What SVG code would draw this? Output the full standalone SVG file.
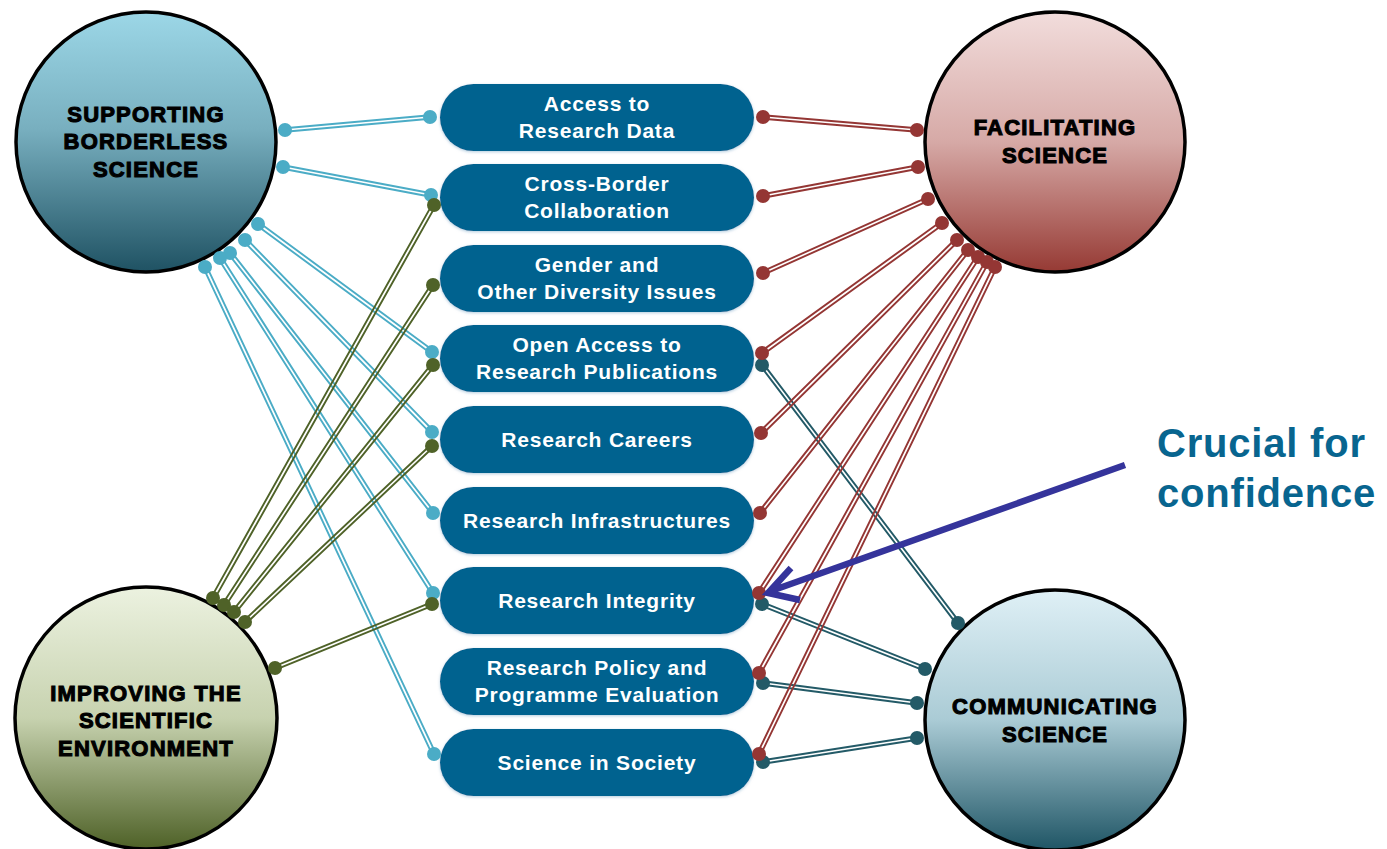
<svg xmlns="http://www.w3.org/2000/svg" width="1387" height="849" viewBox="0 0 1387 849">
<defs>
<linearGradient id="gSup" x1="0" y1="0" x2="0" y2="1"><stop offset="0" stop-color="#9CD7E7"/><stop offset="0.45" stop-color="#78AFBF"/><stop offset="1" stop-color="#1F5263"/></linearGradient>
<linearGradient id="gFac" x1="0" y1="0" x2="0" y2="1"><stop offset="0" stop-color="#F2DDDC"/><stop offset="0.5" stop-color="#D6A9A6"/><stop offset="1" stop-color="#963A34"/></linearGradient>
<linearGradient id="gImp" x1="0" y1="0" x2="0" y2="1"><stop offset="0" stop-color="#ECF2E0"/><stop offset="0.5" stop-color="#C7D2AF"/><stop offset="1" stop-color="#4E6127"/></linearGradient>
<linearGradient id="gCom" x1="0" y1="0" x2="0" y2="1"><stop offset="0" stop-color="#DFF0F6"/><stop offset="0.5" stop-color="#AACBD5"/><stop offset="1" stop-color="#1F5565"/></linearGradient>
<filter id="glow" x="-10%" y="-20%" width="120%" height="140%"><feDropShadow dx="0" dy="1" stdDeviation="1.6" flood-color="#7FA9C9" flood-opacity="0.6"/></filter>
</defs>
<style>
.hub{stroke:#000;stroke-width:3.5}
.hubt{font-family:"Liberation Sans",Arial,sans-serif;font-weight:bold;font-size:22px;letter-spacing:1.2px;fill:#000;stroke:#000;stroke-width:1.1;text-anchor:middle}
.box{fill:#03628F;filter:url(#glow)}
.boxt{font-family:"Liberation Sans",Arial,sans-serif;font-weight:bold;font-size:21px;letter-spacing:0.8px;fill:#fff;text-anchor:middle}
.c{fill:none;stroke-width:1.9}
.blue .c{stroke:#4BACC6}.blue circle{fill:#4BACC6}
.red .c{stroke:#943634}.red circle{fill:#943634}
.green .c{stroke:#4F6228}.green circle{fill:#4F6228}
.teal .c{stroke:#235A67}.teal circle{fill:#235A67}
.note{font-family:"Liberation Sans",Arial,sans-serif;font-weight:bold;font-size:40px;letter-spacing:0.8px;fill:#08658F}
.arrow{fill:none;stroke:#35349B;stroke-width:6.5}
</style>

<g id="hub-supporting"><circle class="hub" cx="146" cy="142" r="130" fill="url(#gSup)"/>
<text class="hubt" x="146" y="122">SUPPORTING</text><text class="hubt" x="146" y="149">BORDERLESS</text><text class="hubt" x="146" y="177">SCIENCE</text></g>
<g id="hub-facilitating"><circle class="hub" cx="1055" cy="142" r="130" fill="url(#gFac)"/>
<text class="hubt" x="1055" y="135">FACILITATING</text><text class="hubt" x="1055" y="163">SCIENCE</text></g>
<g id="hub-improving"><circle class="hub" cx="146" cy="718" r="131" fill="url(#gImp)"/>
<text class="hubt" x="146" y="701">IMPROVING THE</text><text class="hubt" x="146" y="728">SCIENTIFIC</text><text class="hubt" x="146" y="756">ENVIRONMENT</text></g>
<g id="hub-communicating"><circle class="hub" cx="1055" cy="720" r="130" fill="url(#gCom)"/>
<text class="hubt" x="1055" y="714">COMMUNICATING</text><text class="hubt" x="1055" y="742">SCIENCE</text></g>

<g id="box-data"><rect class="box" x="440" y="84" width="314" height="67" rx="33.5"/><text class="boxt" x="597" y="110.5">Access to</text><text class="boxt" x="597" y="138">Research Data</text></g>
<g id="box-crossborder"><rect class="box" x="440" y="164" width="314" height="67" rx="33.5"/><text class="boxt" x="597" y="190.5">Cross-Border</text><text class="boxt" x="597" y="218">Collaboration</text></g>
<g id="box-gender"><rect class="box" x="440" y="245" width="314" height="67" rx="33.5"/><text class="boxt" x="597" y="271.5">Gender and</text><text class="boxt" x="597" y="299">Other Diversity Issues</text></g>
<g id="box-openaccess"><rect class="box" x="440" y="325" width="314" height="67" rx="33.5"/><text class="boxt" x="597" y="351.5">Open Access to</text><text class="boxt" x="597" y="379">Research Publications</text></g>
<g id="box-careers"><rect class="box" x="440" y="406" width="314" height="67" rx="33.5"/><text class="boxt" x="597" y="446.5">Research Careers</text></g>
<g id="box-infra"><rect class="box" x="440" y="487" width="314" height="67" rx="33.5"/><text class="boxt" x="597" y="527.5">Research Infrastructures</text></g>
<g id="box-integrity"><rect class="box" x="440" y="567" width="314" height="67" rx="33.5"/><text class="boxt" x="597" y="607.5">Research Integrity</text></g>
<g id="box-policy"><rect class="box" x="440" y="648" width="314" height="67" rx="33.5"/><text class="boxt" x="597" y="674.5">Research Policy and</text><text class="boxt" x="597" y="702">Programme Evaluation</text></g>
<g id="box-society"><rect class="box" x="440" y="729" width="314" height="67" rx="33.5"/><text class="boxt" x="597" y="769.5">Science in Society</text></g>

<g id="connectors">
<g class="blue">
<g><path class="c" d="M285.2,131.8L430.2,118.8M284.8,128.2L429.8,115.2"/><circle cx="285" cy="130" r="7"/><circle cx="430" cy="117" r="7"/></g>
<g><path class="c" d="M282.7,168.8L430.7,196.8M283.3,165.2L431.3,193.2"/><circle cx="283" cy="167" r="7"/><circle cx="431" cy="195" r="7"/></g>
<g><path class="c" d="M256.9,225.5L430.9,353.5M259.1,222.5L433.1,350.5"/><circle cx="258" cy="224" r="7"/><circle cx="432" cy="352" r="7"/></g>
<g><path class="c" d="M243.7,241.3L430.7,433.3M246.3,238.7L433.3,430.7"/><circle cx="245" cy="240" r="7"/><circle cx="432" cy="432" r="7"/></g>
<g><path class="c" d="M228.6,254.1L431.6,514.1M231.4,251.9L434.4,511.9"/><circle cx="230" cy="253" r="7"/><circle cx="433" cy="513" r="7"/></g>
<g><path class="c" d="M218.5,259L431.5,594M221.5,257L434.5,592"/><circle cx="220" cy="258" r="7"/><circle cx="433" cy="593" r="7"/></g>
<g><path class="c" d="M203.4,267.8L432.4,754.8M206.6,266.2L435.6,753.2"/><circle cx="205" cy="267" r="7"/><circle cx="434" cy="754" r="7"/></g>
</g>
<g class="green">
<g><path class="c" d="M214.6,598.9L435.6,205.9M211.4,597.1L432.4,204.1"/><circle cx="213" cy="598" r="7"/><circle cx="434" cy="205" r="7"/></g>
<g><path class="c" d="M225.5,606L434.5,286M222.5,604L431.5,284"/><circle cx="224" cy="605" r="7"/><circle cx="433" cy="285" r="7"/></g>
<g><path class="c" d="M235.4,613.1L434.4,366.1M232.6,610.9L431.6,363.9"/><circle cx="234" cy="612" r="7"/><circle cx="433" cy="365" r="7"/></g>
<g><path class="c" d="M246.2,623.3L433.2,447.3M243.8,620.7L430.8,444.7"/><circle cx="245" cy="622" r="7"/><circle cx="432" cy="446" r="7"/></g>
<g><path class="c" d="M275.7,669.7L432.7,605.7M274.3,666.3L431.3,602.3"/><circle cx="275" cy="668" r="7"/><circle cx="432" cy="604" r="7"/></g>
</g>
<g class="teal">
<g><path class="c" d="M760.6,366.1L956.6,624.1M763.4,363.9L959.4,621.9"/><circle cx="762" cy="365" r="7"/><circle cx="958" cy="623" r="7"/></g>
<g><path class="c" d="M761.3,605.7L924.3,670.7M762.7,602.3L925.7,667.3"/><circle cx="762" cy="604" r="7"/><circle cx="925" cy="669" r="7"/></g>
<g><path class="c" d="M762.8,684.8L916.8,704.8M763.2,681.2L917.2,701.2"/><circle cx="763" cy="683" r="7"/><circle cx="917" cy="703" r="7"/></g>
<g><path class="c" d="M763.3,763.8L917.3,739.8M762.7,760.2L916.7,736.2"/><circle cx="763" cy="762" r="7"/><circle cx="917" cy="738" r="7"/></g>
</g>
<g class="red">
<g><path class="c" d="M762.9,118.8L916.9,131.8M763.1,115.2L917.1,128.2"/><circle cx="763" cy="117" r="7"/><circle cx="917" cy="130" r="7"/></g>
<g><path class="c" d="M763.3,197.8L918.3,168.8M762.7,194.2L917.7,165.2"/><circle cx="763" cy="196" r="7"/><circle cx="918" cy="167" r="7"/></g>
<g><path class="c" d="M763.7,274.6L928.7,200.6M762.3,271.4L927.3,197.4"/><circle cx="763" cy="273" r="7"/><circle cx="928" cy="199" r="7"/></g>
<g><path class="c" d="M763.1,354.5L943.1,224.5M760.9,351.5L940.9,221.5"/><circle cx="762" cy="353" r="7"/><circle cx="942" cy="223" r="7"/></g>
<g><path class="c" d="M762.3,434.3L958.3,241.3M759.7,431.7L955.7,238.7"/><circle cx="761" cy="433" r="7"/><circle cx="957" cy="240" r="7"/></g>
<g><path class="c" d="M761.4,514.1L969.4,251.1M758.6,511.9L966.6,248.9"/><circle cx="760" cy="513" r="7"/><circle cx="968" cy="250" r="7"/></g>
<g><path class="c" d="M760.5,594L979.5,258M757.5,592L976.5,256"/><circle cx="759" cy="593" r="7"/><circle cx="978" cy="257" r="7"/></g>
<g><path class="c" d="M760.6,673.9L988.6,262.9M757.4,672.1L985.4,261.1"/><circle cx="759" cy="673" r="7"/><circle cx="987" cy="262" r="7"/></g>
<g><path class="c" d="M760.6,754.8L996.6,267.8M757.4,753.2L993.4,266.2"/><circle cx="759" cy="754" r="7"/><circle cx="995" cy="267" r="7"/></g>
</g>
</g>

<g id="callout">
<path class="arrow" d="M1125,465L771,591M791,568L768,593L800,600"/>
<text class="note" x="1157" y="457">Crucial for</text>
<text class="note" x="1157" y="507">confidence</text>
</g>
</svg>
